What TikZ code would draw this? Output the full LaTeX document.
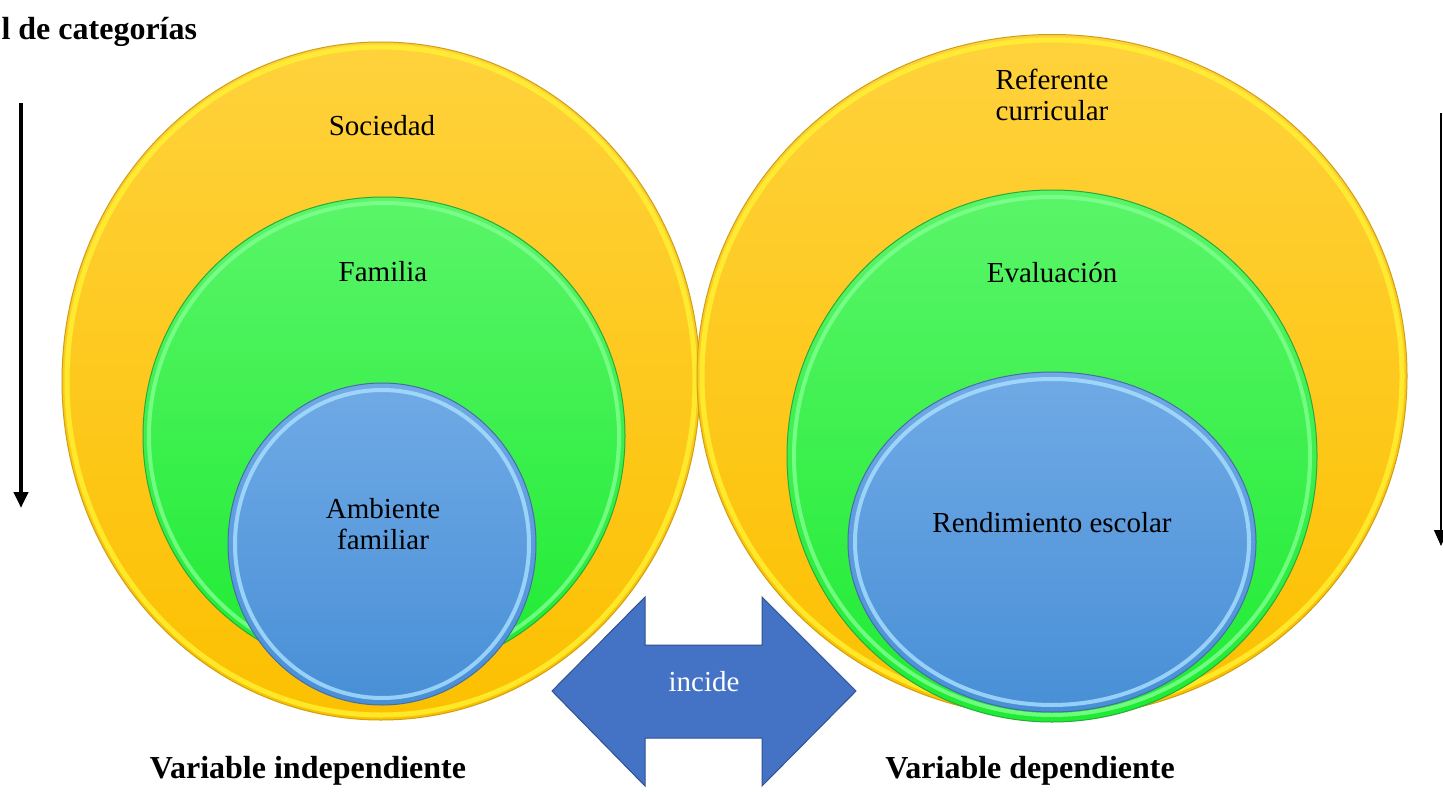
\documentclass[tikz,border=0pt]{standalone}
\usepackage{fontspec}
\setmainfont{Liberation Serif}
\usetikzlibrary{shapes.geometric,arrows.meta}
\definecolor{yTop}{RGB}{255,210,60}
\definecolor{yBot}{RGB}{252,192,0}
\definecolor{yEdge}{RGB}{205,160,20}
\definecolor{yRing}{RGB}{255,242,50}
\definecolor{gTop}{RGB}{90,245,105}
\definecolor{gBot}{RGB}{30,235,50}
\definecolor{gEdge}{RGB}{40,170,60}
\definecolor{gRing}{RGB}{130,255,145}
\definecolor{bTop}{RGB}{112,170,230}
\definecolor{bBot}{RGB}{72,143,214}
\definecolor{bEdge}{RGB}{70,110,165}
\definecolor{bRing}{RGB}{170,225,255}
\definecolor{arrowBlue}{RGB}{68,114,196}
\definecolor{arrowEdge}{RGB}{47,82,143}
\tikzset{
  disc/.style={ellipse, inner sep=0pt, outer sep=0pt},
  yellowdisc/.style={disc, top color=yTop, bottom color=yBot, draw=yEdge, line width=1pt},
  greendisc/.style={disc, top color=gTop, bottom color=gBot, draw=gEdge, line width=1pt},
  bluedisc/.style={disc, top color=bTop, bottom color=bBot, draw=bEdge, line width=1pt},
  ring/.style={line width=4pt, opacity=0.8},
  lbl/.style={font=\fontsize{29}{31}\selectfont, align=center, text=black},
  title/.style={font=\fontsize{32}{34}\selectfont\bfseries, text=black},
  levelarrow/.style={-{Triangle[width=14pt,length=16pt]}}
}
\begin{document}
\begin{tikzpicture}[x=1pt,y=-1pt]
\useasboundingbox (0,0) rectangle (1443,792);
% left group
\node[yellowdisc, minimum width=638pt, minimum height=678pt] (LY) at (381,381) {};
\draw[ring, yRing, line width=5pt] (381,381) ellipse [x radius=314, y radius=334];
\node[greendisc, minimum width=482pt, minimum height=478pt] (LG) at (384,436) {};
\draw[ring, gRing] (384,436) ellipse [x radius=235, y radius=233];
\node[bluedisc, minimum width=308pt, minimum height=322pt] (LB) at (382,544) {};
\draw[ring, bRing] (382,544) ellipse [x radius=147, y radius=154];
% right group
\node[yellowdisc, minimum width=710pt, minimum height=683pt] (RY) at (1052,376) {};
\draw[ring, yRing, line width=5pt] (1052,376) ellipse [x radius=350, y radius=336];
\node[greendisc, minimum width=530pt, minimum height=532pt] (RG) at (1052,456) {};
\draw[ring, gRing] (1052,456) ellipse [x radius=258, y radius=259];
\node[bluedisc, minimum width=408pt, minimum height=340pt] (RB) at (1052,542) {};
\draw[ring, bRing] (1052,542) ellipse [x radius=197, y radius=163];
% labels
\node[lbl] (soc) at (382,126) {Sociedad};
\node[lbl] (fam) at (383,272) {Familia};
\node[lbl] (amb) at (383,524) {Ambiente\\familiar};
\node[lbl] (ref) at (1052,95) {Referente\\curricular};
\node[lbl] (eva) at (1052,273) {Evaluación};
\node[lbl] (ren) at (1052,523) {Rendimiento escolar};
% double arrow
\draw[fill=arrowBlue, draw=arrowEdge, line width=1pt]
  (552,691) -- (645,597) -- (645,645) -- (762,645) -- (762,597) -- (856,691)
  -- (762,786) -- (762,738) -- (645,738) -- (645,786) -- cycle;
\node[lbl, text=white] (inc) at (704,682) {incide};
% titles
\node[title] (vi) at (308,771) {Variable independiente};
\node[title] (vd) at (1030,771) {Variable dependiente};
\node[title, anchor=base west] (niv) at (-2,40) {l de categorías};
% level arrows
\coordinate (la1) at (21,103);
\coordinate (la2) at (21,508);
\draw[levelarrow, line width=4pt] (la1) -- (la2);
\coordinate (ra1) at (1441,113);
\coordinate (ra2) at (1441,546);
\draw[levelarrow, line width=1.2pt] (ra1) -- (ra2);
\end{tikzpicture}
\end{document}
